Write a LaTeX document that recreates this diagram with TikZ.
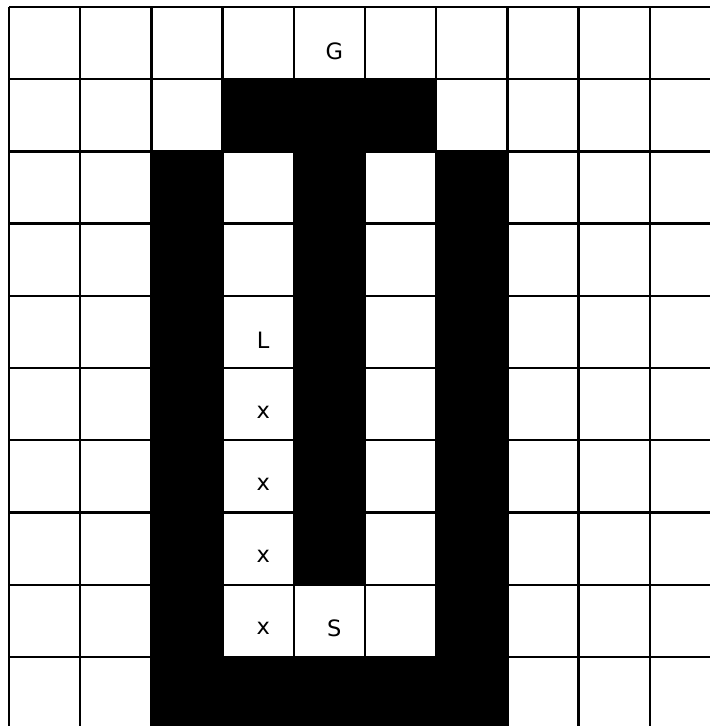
\documentclass[tikz,border=0pt]{standalone}
\usepackage{fontspec}
\setsansfont{DejaVu Sans}
\tikzset{
  every picture/.style={font=\sffamily, line width=0.8pt},
  wall/.style={fill=black},
  gridline/.style={draw=black, line width=0.9pt},
  celltxt/.style={font=\sffamily\fontsize{9}{11}\selectfont, inner sep=0pt},
}
\begin{document}
\begin{tikzpicture}[x=1cm, y=-1.014cm]
  \useasboundingbox (-0.126,-0.097) rectangle (9.845,9.958);
  % obstacle cells
  \fill[wall] (3,1) rectangle (6,2);
  \fill[wall] (4,2) rectangle (5,8);
  \fill[wall] (2,2) rectangle (3,9.958);
  \fill[wall] (6,2) rectangle (7,9.958);
  \fill[wall] (2,9) rectangle (7,9.958);
  % grid
  \foreach \i in {0,...,9} \draw[gridline] (\i,0) -- (\i,9.958);
  \foreach \j in {0,...,9} \draw[gridline] (0,\j) -- (9.845,\j);
  % cell marks
  \node[celltxt] (goal) at (4.57,0.61) {G};
  \node[celltxt] (lead) at (3.57,4.61) {L};
  \foreach \r in {5,6,7,8} \node[celltxt] (trail\r) at (3.57,\r.61) {x};
  \node[celltxt] (start) at (4.57,8.61) {S};
\end{tikzpicture}
\end{document}
